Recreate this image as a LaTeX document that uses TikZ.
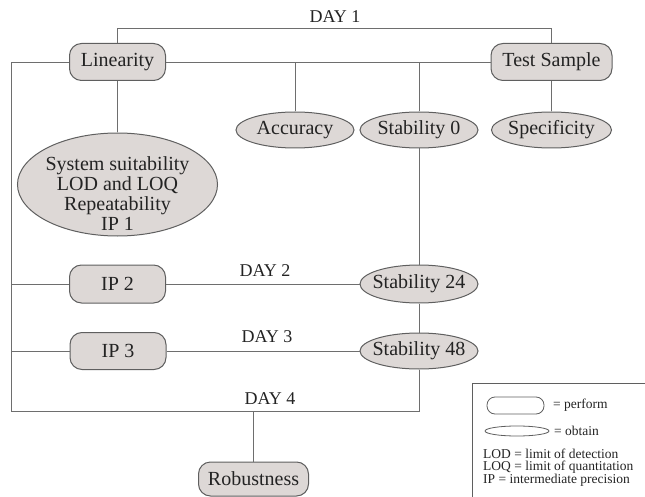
\documentclass[tikz,border=0pt]{standalone}
\usepackage{fontspec}
\setmainfont{Liberation Serif}
\usetikzlibrary{shapes.geometric}
\definecolor{boxfill}{RGB}{221,216,214}
\definecolor{boxline}{RGB}{95,95,95}
\definecolor{wirecol}{RGB}{110,110,110}
\definecolor{inkcol}{RGB}{35,35,35}
\newcommand{\nowidth}[1]{\makebox[0pt]{#1}}

\begin{document}
\begin{tikzpicture}[x=1pt,y=1pt,
  every node/.append style={inner sep=0pt,text=inkcol},
  perform/.style={draw=boxline,fill=boxfill,line width=1pt,rounded corners=12pt,minimum height=37pt,font=\fontsize{20}{20}\selectfont},
  obtain/.style={draw=boxline,fill=boxfill,line width=1pt,ellipse,minimum height=36pt,font=\fontsize{20}{20}\selectfont},
  wire/.style={draw=wirecol,line width=0.9pt},
  daylabel/.style={font=\fontsize{18}{18}\selectfont},
  keytext/.style={anchor=west,align=left,font=\fontsize{13.5}{12.5}\selectfont}]
\useasboundingbox (0,0) rectangle (645,-497);
\node [perform,minimum width=96pt] (lin) at (117.5,-62) {Linearity};
\node [perform,minimum width=121pt] (ts) at (551.5,-62) {Test Sample};
\node [obtain,minimum width=118pt] (acc) at (295,-130) {\nowidth{Accuracy}};
\node [obtain,minimum width=118pt] (st0) at (419,-130) {\nowidth{Stability 0}};
\node [obtain,minimum width=120pt] (spec) at (551.5,-130) {\nowidth{Specificity}};
\node [obtain,minimum width=200pt,minimum height=103pt] (sys) at (117.5,-184.5) {\nowidth{\raisebox{-17.5pt}[0pt][0pt]{\begin{tabular}{@{}c@{}}System suitability\\LOD and LOQ\\Repeatability\\IP 1\end{tabular}}}};
\node [perform,minimum width=96pt,minimum height=38pt] (ip2) at (117.5,-284) {IP 2};
\node [obtain,minimum width=118pt,minimum height=38pt] (st24) at (419,-284) {\nowidth{Stability 24}};
\node [perform,minimum width=96pt] (ip3) at (118,-351) {IP 3};
\node [obtain,minimum width=118pt] (st48) at (419,-351) {\nowidth{Stability 48}};
\node [perform,minimum width=110pt,minimum height=34pt] (rob) at (253.5,-479) {Robustness};
\node [daylabel] (day1) at (335,-17) {DAY 1};
\node [daylabel] (day2) at (265,-271) {DAY 2};
\node [daylabel] (day3) at (267,-337) {DAY 3};
\node [daylabel] (day4) at (270,-399) {DAY 4};
\coordinate (cornerbl) at (11,-411);
\draw [wire] (lin.north) -- ++(0,14.5) -| (ts.north);
\draw [wire] (lin) -- (ts);
\draw [wire] (acc.north) -- (acc.north |- lin.east);
\draw [wire] (st0.north) -- (st0.north |- lin.east);
\draw [wire] (ts) -- (spec);
\draw [wire] (lin) -- (sys);
\draw [wire] (st0) -- (st24);
\draw [wire] (st24) -- (st48);
\draw [wire] (lin.west) -| (cornerbl) -| (st48.south);
\draw [wire] (ip2.west) -- (ip2.west -| cornerbl);
\draw [wire] (ip2) -- (st24);
\draw [wire] (ip3.west) -- (ip3.west -| cornerbl);
\draw [wire] (ip3) -- (st48);
\draw [wire] (rob.north) -- (rob.north |- cornerbl);
\draw [draw=boxline,line width=0.9pt] (472,-497) |- (645,-383);
\node [draw=boxline,line width=0.8pt,rounded corners=8pt,minimum width=57pt,minimum height=17pt] (keyperform) at (515.5,-405.5) {};
\node [draw=boxline,line width=0.8pt,ellipse,minimum width=64pt,minimum height=10pt] (keyobtain) at (517,-431) {};
\node [keytext] (keyperformtext) at (553,-405.5) {= perform};
\node [keytext] (keyobtaintext) at (554,-431) {= obtain};
\node [keytext] (keyabbr) at (483,-467.5) {LOD = limit of detection\\LOQ = limit of quantitation\\IP = intermediate precision};
\end{tikzpicture}
\end{document}
